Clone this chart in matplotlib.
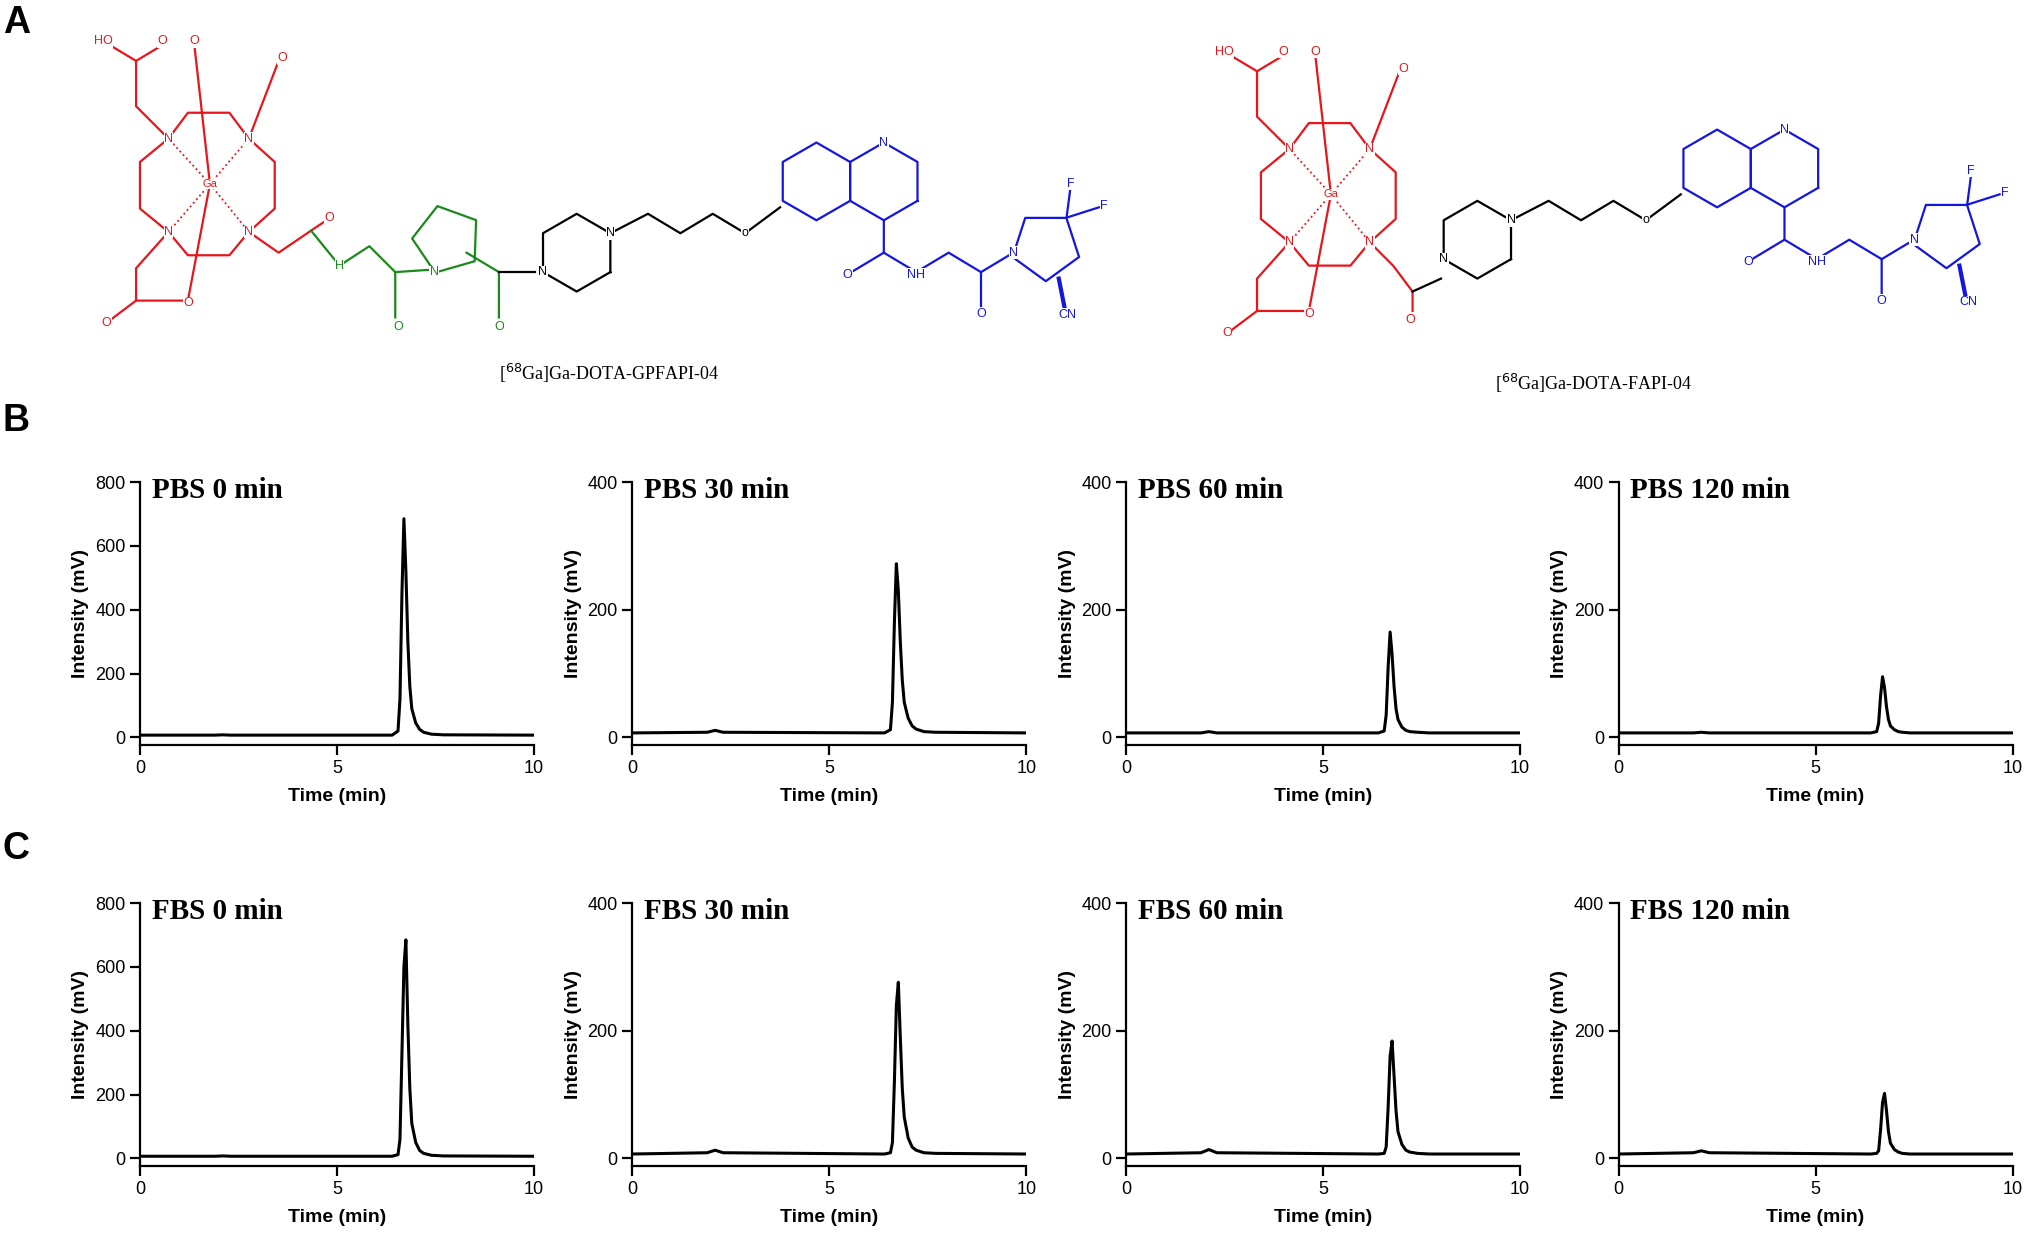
import matplotlib
matplotlib.use("Agg")
import matplotlib.pyplot as plt
import numpy as np

time_min = [0, 1.9, 2.1, 2.3, 6.4, 6.55, 6.6, 6.65, 6.7, 6.75, 6.8, 6.85, 6.9, 7.0, 7.1, 7.2, 7.4, 7.7, 10]
pbs_titles = ["PBS 0 min", "PBS 30 min", "PBS 60 min", "PBS 120 min"]
fbs_titles = ["FBS 0 min", "FBS 30 min", "FBS 60 min", "FBS 120 min"]
pbs_0 = [7, 7, 8, 7, 7, 20, 120, 450, 685, 520, 300, 160, 90, 45, 25, 16, 10, 8, 7]
pbs_30 = [7, 8, 11, 8, 7, 12, 55, 180, 272, 230, 150, 90, 55, 30, 18, 13, 9, 8, 7]
pbs_60 = [7, 7, 9, 7, 7, 10, 35, 110, 165, 130, 80, 45, 28, 16, 11, 9, 8, 7, 7]
pbs_120 = [7, 7, 8, 7, 7, 9, 22, 65, 95, 78, 48, 28, 18, 12, 9, 8, 7, 7, 7]
fbs_0 = [7, 7, 8, 7, 7, 12, 60, 330, 600, 685, 420, 220, 110, 50, 25, 16, 10, 8, 7]
fbs_30 = [7, 9, 13, 9, 7, 9, 25, 120, 240, 276, 190, 110, 65, 32, 18, 13, 9, 8, 7]
fbs_60 = [7, 9, 14, 9, 7, 8, 18, 80, 160, 184, 130, 75, 42, 22, 13, 10, 8, 7, 7]
fbs_120 = [7, 9, 12, 9, 7, 8, 12, 45, 88, 102, 75, 42, 24, 14, 10, 8, 7, 7, 7]
pbs_series = [pbs_0, pbs_30, pbs_60, pbs_120]
fbs_series = [fbs_0, fbs_30, fbs_60, fbs_120]
ymax = [800, 400, 400, 400]

W, H = 1568, 957
fig = plt.figure(figsize=(20.32, 12.4), dpi=100)

lefts = [108, 488, 869, 1249]
aw = 304
rows = [(372, 575, pbs_series, pbs_titles), (697, 900, fbs_series, fbs_titles)]
for top, bot, series, titles in rows:
    for i in range(4):
        ax = fig.add_axes([lefts[i] / W, 1 - bot / H, aw / W, (bot - top) / H])
        ax.plot(time_min, series[i], color="black", lw=2.2)
        ax.set_xlim(0, 10)
        ax.set_ylim(-ymax[i] * 0.03, ymax[i])
        ax.set_xticks([0, 5, 10])
        ax.set_yticks(np.arange(0, ymax[i] + 1, 200))
        for s in ["top", "right"]:
            ax.spines[s].set_visible(False)
        for s in ["left", "bottom"]:
            ax.spines[s].set_linewidth(1.6)
        ax.tick_params(width=1.6, length=7, labelsize=13)
        ax.set_xlabel("Time (min)", fontsize=14, fontweight="bold", family="Liberation Sans", labelpad=8)
        ax.set_ylabel("Intensity (mV)", fontsize=14, fontweight="bold", family="Liberation Sans")
        for lab in ax.get_xticklabels() + ax.get_yticklabels():
            lab.set_family("Liberation Sans")
        ax.text(0.03, 1.02, titles[i], transform=ax.transAxes,
                fontsize=21, fontweight="bold", family="Liberation Serif", va="top")

# overlay for structures and panel labels
ov = fig.add_axes([0, 0, 1, 1])
ov.set_xlim(0, W)
ov.set_ylim(H, 0)
ov.axis("off")
for lab, y in [("A", 18), ("B", 325), ("C", 655)]:
    ov.text(2, y, lab, fontsize=27, fontweight="bold", family="Liberation Sans", va="center")

R, G, B = "#e8151b", "#1a8a1a", "#1515e0"

def line(pts, c, lw=1.6, ls="-"):
    xs, ys = zip(*pts)
    ov.plot(xs, ys, color=c, lw=lw, ls=ls)

def ring(cx, cy, r, n, rot, c):
    a = np.deg2rad(rot) + np.arange(n + 1) * 2 * np.pi / n
    ov.plot(cx + r * np.cos(a), cy + r * np.sin(a), color=c, lw=1.6)

def txt(x, y, s, c, fs=9):
    ov.text(x, y, s, color=c, fontsize=fs, family="Liberation Sans", ha="center", va="center",
            bbox=dict(facecolor="white", edgecolor="none", pad=0.3))

def dota(x0, y0):
    n1, n2, n3, n4 = (x0, y0), (x0 + 62, y0), (x0, y0 + 72), (x0 + 62, y0 + 72)
    ga = (x0 + 32, y0 + 35)
    line([n1, (x0 + 15, y0 - 20), (x0 + 47, y0 - 20), n2], R)
    line([n3, (x0 + 15, y0 + 90), (x0 + 47, y0 + 90), n4], R)
    line([n1, (x0 - 22, y0 + 18), (x0 - 22, y0 + 54), n3], R)
    line([n2, (x0 + 82, y0 + 18), (x0 + 82, y0 + 54), n4], R)
    for n in [n1, n2, n3, n4]:
        line([ga, n], R, lw=1.3, ls=":")
    line([n1, (x0 - 25, y0 - 25), (x0 - 25, y0 - 60), (x0 - 5, y0 - 72)], R)
    line([(x0 - 25, y0 - 60), (x0 - 45, y0 - 72)], R)
    line([ga, (x0 + 20, y0 - 72)], R)
    line([n2, (x0 + 85, y0 - 60)], R)
    line([n3, (x0 - 25, y0 + 100), (x0 - 25, y0 + 125), (x0 - 45, y0 + 140)], R)
    line([ga, (x0 + 15, y0 + 125), (x0 - 25, y0 + 125)], R)
    for n in [n1, n2, n3, n4]:
        txt(*n, "N", R)
    txt(*ga, "Ga", R, 8)
    txt(x0 - 5, y0 - 75, "O", R); txt(x0 - 50, y0 - 75, "HO", R)
    txt(x0 + 20, y0 - 75, "O", R); txt(x0 + 88, y0 - 62, "O", R)
    txt(x0 - 48, y0 + 142, "O", R); txt(x0 + 15, y0 + 127, "O", R)
    return n4

def tail(px, py):
    ring(px, py, 30, 6, 30, "black")
    txt(px - 26, py + 15, "N", "black"); txt(px + 26, py - 15, "N", "black")
    line([(px + 26, py - 15), (px + 55, py - 30), (px + 80, py - 15), (px + 105, py - 30), (px + 130, py - 15)], "black")
    qx = px + 185
    txt(px + 130, py - 15, "o", "black")
    line([(px + 130, py - 15), (qx - 28, py - 35)], "black")
    ring(qx, py - 55, 30, 6, 30, B)
    ring(qx + 52, py - 55, 30, 6, 30, B)
    txt(qx + 52, py - 85, "N", B)
    ax_, ay_ = qx + 52, py - 25
    line([(ax_, ay_), (ax_, ay_ + 25), (ax_ - 25, ay_ + 40)], B)
    txt(ax_ - 28, ay_ + 42, "O", B)
    line([(ax_, ay_ + 25), (ax_ + 25, ay_ + 40), (ax_ + 50, ay_ + 25), (ax_ + 75, ay_ + 40), (ax_ + 75, ay_ + 70)], B)
    txt(ax_ + 25, ay_ + 42, "NH", B); txt(ax_ + 75, ay_ + 72, "O", B)
    nx, ny = ax_ + 100, ay_ + 25
    line([(ax_ + 75, ay_ + 40), (nx, ny)], B)
    ring(nx + 25, ny - 5, 27, 5, 162, B)
    txt(nx, ny, "N", B)
    line([(nx + 41, ny - 27), (nx + 44, ny - 50)], B)
    line([(nx + 41, ny - 27), (nx + 66, ny - 35)], B)
    txt(nx + 44, ny - 53, "F", B); txt(nx + 70, ny - 36, "F", B)
    line([(nx + 35, ny + 20), (nx + 40, ny + 45)], B, lw=3)
    txt(nx + 42, ny + 48, "CN", B)

n4 = dota(130, 107)
line([n4, (215, 195), (240, 178), (252, 170)], R)
txt(254, 168, "O", R)
line([(240, 178), (262, 205)], G)
txt(262, 205, "H", G)
line([(262, 205), (285, 190), (305, 210), (305, 245)], G)
txt(307, 252, "O", G)
ring(345, 185, 27, 5, 110, G)
line([(305, 210), (335, 208)], G)
txt(335, 210, "N", G)
line([(360, 195), (385, 210), (385, 245)], G)
txt(385, 252, "O", G)
line([(385, 210), (413, 210)], "black")
tail(445, 195)
ov.text(470, 288, r"[$^{68}$Ga]Ga-DOTA-GPFAPI-04", fontsize=13, family="Liberation Serif", ha="center", va="center")

n4b = dota(995, 115)
line([n4b, (1075, 205), (1090, 225), (1090, 240)], R)
txt(1088, 247, "O", R)
line([(1090, 225), (1112, 215)], "black")
tail(1140, 185)
ov.text(1230, 296, r"[$^{68}$Ga]Ga-DOTA-FAPI-04", fontsize=13, family="Liberation Serif", ha="center", va="center")

fig.savefig("out.png", dpi=100)
